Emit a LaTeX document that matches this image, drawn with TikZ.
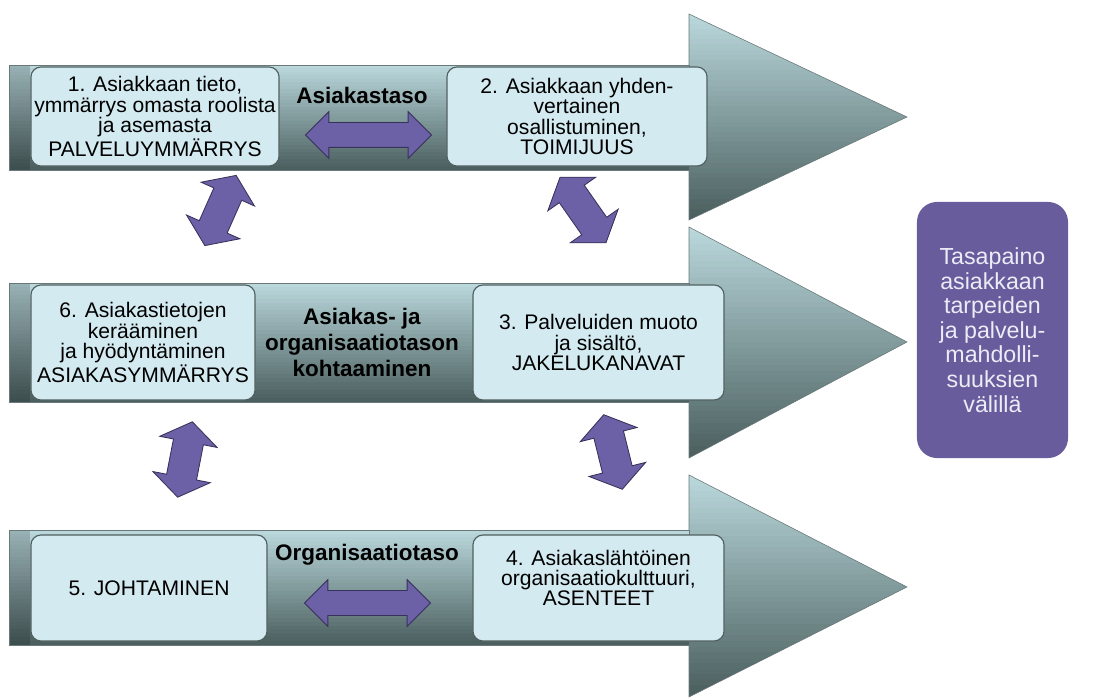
\documentclass[tikz,border=0pt]{standalone}
\usepackage{fontspec}
\setmainfont{Liberation Sans}
\usetikzlibrary{shapes.arrows}

\definecolor{arrtop}{RGB}{186,216,220}
\definecolor{arrbot}{RGB}{76,96,96}
\definecolor{arrline}{RGB}{105,120,120}
\definecolor{boxfill}{RGB}{211,234,240}
\definecolor{boxline}{RGB}{80,95,95}
\definecolor{dblfill}{RGB}{108,96,166}
\definecolor{dblline}{RGB}{55,50,90}
\definecolor{goalfill}{RGB}{104,92,156}
\definecolor{goaltext}{RGB}{236,236,246}

\tikzset{
  lvlbox/.style={draw=boxline, fill=boxfill, rounded corners=0.25cm, line width=0.8pt,
    align=center, inner sep=0pt, font=\fontsize{15}{14.5}\selectfont},
  lvltitle/.style={align=center, font=\fontsize{16}{18.5}\selectfont\bfseries},
  dblarr/.style={double arrow, draw=dblline, fill=dblfill, line width=0.6pt, inner xsep=0pt},
  hdbl/.style={minimum height=3.15cm, minimum width=1.15cm, inner ysep=0.3cm,
    double arrow head extend=0.275cm},
  tdbl/.style={minimum height=1.92cm, minimum width=1.45cm, inner ysep=0.37cm,
    double arrow head extend=0.35cm, double arrow tip angle=110},
  goalbox/.style={fill=goalfill, rounded corners=0.5cm, align=center, text=goaltext,
    font=\fontsize{16.5}{17.5}\selectfont}
}

\begin{document}
\begin{tikzpicture}[x=0.025cm, y=0.025cm]
\useasboundingbox (0,0) rectangle (1101,698);

% the three level arrows, gradient built from thin strips
\foreach \bt/\bb/\ht/\hb/\tip in {633/528/684/478/581, 415/296/471/240/356, 168/53/223/1/111} {
  \begin{scope}
    \clip (689,\ht) -- (907,\tip) -- (689,\hb) -- cycle;
    \foreach \k in {0,...,39} {
      \pgfmathtruncatemacro\p{100-100*\k/39}
      \fill[arrtop!\p!arrbot] (689,{\ht-(\ht-\hb)*\k/40+0.5}) rectangle (907,{\ht-(\ht-\hb)*(\k+1)/40-0.5});
    }
  \end{scope}
  \draw[arrline] (689,\ht) -- (907,\tip) -- (689,\hb) -- cycle;
  \foreach \k in {0,...,29} {
    \pgfmathtruncatemacro\p{100-100*\k/29}
    \fill[arrtop!\p!arrbot] (9,{\bt-(\bt-\bb)*\k/30+0.3}) rectangle (689,{\bt-(\bt-\bb)*(\k+1)/30-0.3});
    \fill[arrtop!\p!arrbot!82!black] (9,{\bt-(\bt-\bb)*\k/30+0.3}) rectangle (30,{\bt-(\bt-\bb)*(\k+1)/30-0.3});
  }
  \draw[arrline] (9,\bb) rectangle (689,\bt);
}

% Asiakastaso
\node[lvlbox, minimum width=6.2cm, minimum height=2.475cm] (b1) at (155,581.5)
  {1. Asiakkaan tieto,\\ymmärrys omasta roolista\\ja asemasta\\PALVELUYMMÄRRYS};
\node[lvlbox, minimum width=6.5cm, minimum height=2.475cm] (b2) at (577,581.5)
  {2. Asiakkaan yhden-\\vertainen\\osallistuminen,\\TOIMIJUUS};
\node[lvltitle] (t1) at (362,603) {Asiakastaso};

% Asiakas- ja organisaatiotaso
\node[lvlbox, minimum width=5.6cm, minimum height=2.875cm] (b6) at (143,355.5)
  {6. Asiakastietojen\\kerääminen\\ja hyödyntäminen\\ASIAKASYMMÄRRYS};
\node[lvlbox, minimum width=6.275cm, minimum height=2.875cm] (b3) at (598.5,355.5)
  {3. Palveluiden muoto\\ja sisältö,\\JAKELUKANAVAT};
\node[lvltitle] (t2) at (362,356) {Asiakas- ja\\organisaatiotason\\kohtaaminen};

% Organisaatiotaso
\node[lvlbox, minimum width=5.9cm, minimum height=2.65cm] (b5) at (149,110) {5. JOHTAMINEN};
\node[lvlbox, minimum width=6.275cm, minimum height=2.65cm] (b4) at (598.5,110)
  {4. Asiakaslähtöinen\\organisaatiokulttuuri,\\ASENTEET\\ \mbox{}};
\node[lvltitle] (t3) at (367,143) {Organisaatiotaso};

% double arrows
\node[dblarr, hdbl] (a12) at (368.5,563) {};
\node[dblarr, hdbl] (a54) at (367.5,95) {};
\node[dblarr, tdbl, rotate=66] (a16) at (220.5,487.5) {};
\node[dblarr, tdbl, rotate=125, minimum height=2cm] (a23) at (583,488) {};
\node[dblarr, tdbl, rotate=79] (a65) at (185,238.5) {};
\node[dblarr, tdbl, rotate=104] (a34) at (613,246) {};

% goal
\node[goalbox, minimum width=3.775cm, minimum height=6.4cm] (goal) at (992.5,368)
  {Tasapaino\\asiakkaan\\tarpeiden\\ja palvelu-\\mahdolli-\\suuksien\\välillä};
\end{tikzpicture}
\end{document}
